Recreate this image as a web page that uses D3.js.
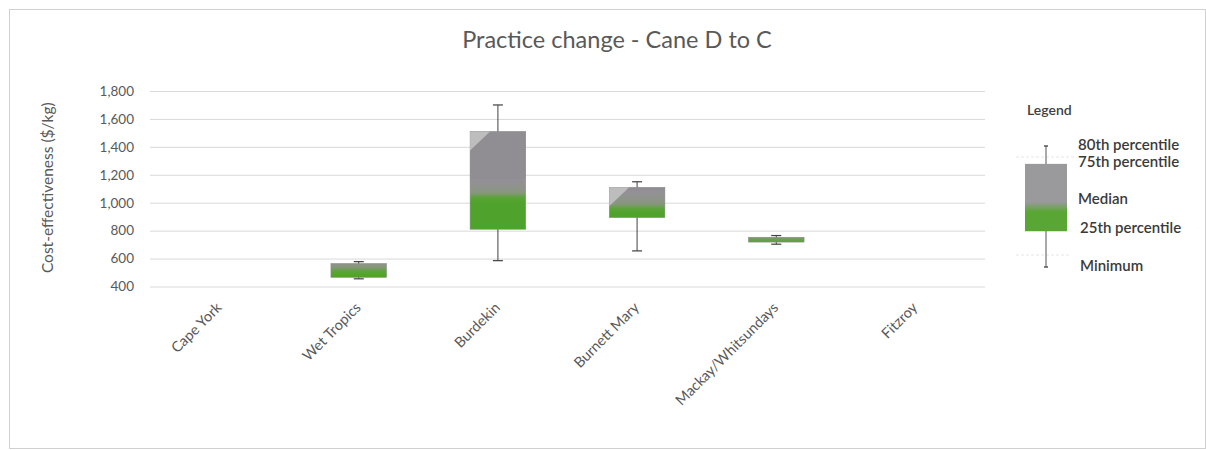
<!DOCTYPE html>
<html>
<head>
<meta charset="utf-8">
<script src="https://cdn.jsdelivr.net/npm/d3@7"></script>
<style>
  html, body { margin: 0; padding: 0; background: #fff; }
  svg { display: block; }
  text { font-family: Lato, "Open Sans", sans-serif; }
</style>
</head>
<body>
<svg id="chart" width="1206" height="450"></svg>
<script>
// ---- data ----
const categories = ["Cape York", "Wet Tropics", "Burdekin", "Burnett Mary", "Mackay/Whitsundays", "Fitzroy"];
const minimum    = [null, 455, 585, 655, 703, null];
const p25        = [null, 465, 810, 893, 718, null];
const median     = [null, 525, 1055, 975, 742, null];
const p75        = [null, 565, 1510, 1110, 753, null];
const p80        = [null, 578, 1700, 1150, 765, null];
const yTicks     = [400, 600, 800, 1000, 1200, 1400, 1600, 1800];
const title      = "Practice change - Cane D to C";
const yTitle     = "Cost-effectiveness ($/kg)";
const legendTitle = "Legend";
const legendLabels = ["80th percentile", "75th percentile", "Median", "25th percentile", "Minimum"];
const legendValues = [1420, 1290, 970, 800, 540];   // nominal positions of the legend glyph

// ---- setup ----
const svg = d3.select("#chart");
const W = 1206, H = 450;
const margin = { left: 150, right: 221, top: 91, bottom: 163.5 };

svg.append("rect").attr("x", 9.5).attr("y", 9.5).attr("width", W - 10).attr("height", H - 11)
  .attr("fill", "#fff").attr("stroke", "#d0d0d0").attr("stroke-width", 1);

const x = d3.scaleBand().domain(categories).range([margin.left, W - margin.right]).paddingInner(0.6).paddingOuter(0.3);
const y = d3.scaleLinear().domain([400, 1800]).range([H - margin.bottom, margin.top]);

// title
svg.append("text").attr("x", 617).attr("y", 48).attr("text-anchor", "middle")
  .attr("font-size", 23.5).attr("fill", "#595959").text(title);

// gridlines + y labels
const yAxis = d3.axisLeft(y).tickValues(yTicks).tickSize(-(W - margin.right - margin.left))
  .tickFormat(d3.format(",")).tickPadding(16);
const gy = svg.append("g").attr("transform", `translate(${margin.left},0)`).call(yAxis);
gy.select(".domain").remove();
gy.selectAll(".tick line").attr("stroke", "#d9d9d9").attr("stroke-width", 1);
gy.selectAll(".tick text").attr("fill", "#595959").attr("font-size", 13.5)
  .attr("font-family", "Lato, 'Open Sans', sans-serif");

// y title
svg.append("text").attr("transform", `translate(53,${(y(400) + y(1800)) / 2 - 1}) rotate(-90)`)
  .attr("text-anchor", "middle").attr("font-size", 15.5).attr("fill", "#595959").text(yTitle);

// x labels
const gx = svg.append("g");
categories.forEach(c => {
  const cx = x(c) + x.bandwidth() / 2;
  gx.append("text").attr("transform", `translate(${cx + 3},${y(400) + 22}) rotate(-45)`)
    .attr("text-anchor", "end").attr("font-size", 14.5).attr("fill", "#595959").text(c);
});

// gradients
const defs = svg.append("defs");
function makeGrad(id, yMed) {
  const g = defs.append("linearGradient").attr("id", id).attr("gradientUnits", "userSpaceOnUse")
    .attr("x1", 0).attr("x2", 0).attr("y1", yMed - 16).attr("y2", yMed + 8);
  g.append("stop").attr("offset", 0).attr("stop-color", "#958f9a");
  g.append("stop").attr("offset", 0.55).attr("stop-color", "#8a9680");
  g.append("stop").attr("offset", 0.8).attr("stop-color", "#58a434");
  g.append("stop").attr("offset", 1).attr("stop-color", "#4fa22b");
  return `url(#${id})`;
}

// boxes
const boxes = svg.append("g");
categories.forEach((c, i) => {
  if (minimum[i] == null) return;
  const x0 = x(c), bw = x.bandwidth(), cx = x0 + bw / 2;
  const stroke = "#404040";
  boxes.append("line").attr("x1", cx).attr("x2", cx).attr("y1", y(p80[i])).attr("y2", y(minimum[i]))
    .attr("stroke", stroke).attr("stroke-width", 1);
  [p80[i], minimum[i]].forEach(v => {
    boxes.append("line").attr("x1", cx - 5).attr("x2", cx + 5).attr("y1", y(v)).attr("y2", y(v))
      .attr("stroke", stroke).attr("stroke-width", 1.2);
  });
  const fill = makeGrad("g" + i, y(median[i]));
  const top = y(p75[i]), bot = y(p25[i]);
  boxes.append("rect").attr("x", x0).attr("y", top).attr("width", bw).attr("height", bot - top)
    .attr("fill", fill).attr("stroke", "#8a8a8a").attr("stroke-width", 0.5);
  boxes.append("rect").attr("x", x0).attr("y", top).attr("width", bw)
    .attr("height", Math.max(0, y(median[i]) - 16 - top)).attr("fill", "#8e8e8e").attr("opacity", 0.6);
  if (bot - top > 25) {
    boxes.append("path")
      .attr("d", `M${x0},${top} L${x0 + 20},${top} L${x0},${top + 19} Z`)
      .attr("fill", "#bdbdbd");
  }
});

// legend
const lg = svg.append("g");
lg.append("text").attr("x", 1027).attr("y", 115).attr("font-size", 14).attr("fill", "#404040")
  .attr("font-weight", 600).text(legendTitle);
const ly = d3.scaleLinear().domain([540, 1420]).range([267, 146]);
const lx0 = 1025, lw = 42, lcx = lx0 + lw / 2;
lg.append("line").attr("x1", 1016).attr("x2", 1076).attr("y1", 157).attr("y2", 157)
  .attr("stroke", "#e6e6e6").attr("stroke-dasharray", "3,2");
lg.append("line").attr("x1", 1016).attr("x2", 1070).attr("y1", 255).attr("y2", 255)
  .attr("stroke", "#e6e6e6").attr("stroke-dasharray", "3,2");
lg.append("line").attr("x1", lcx).attr("x2", lcx).attr("y1", ly(legendValues[0])).attr("y2", ly(legendValues[4]))
  .attr("stroke", "#555").attr("stroke-width", 1);
[legendValues[0], legendValues[4]].forEach(v => {
  lg.append("line").attr("x1", lcx - 2).attr("x2", lcx + 2).attr("y1", ly(v)).attr("y2", ly(v))
    .attr("stroke", "#555").attr("stroke-width", 1.5);
});
const lgrad = defs.append("linearGradient").attr("id", "lgrad").attr("gradientUnits", "userSpaceOnUse")
  .attr("x1", 0).attr("x2", 0).attr("y1", ly(legendValues[2]) - 6).attr("y2", ly(legendValues[2]) + 4);
lgrad.append("stop").attr("offset", 0).attr("stop-color", "#9a9a9c");
lgrad.append("stop").attr("offset", 1).attr("stop-color", "#5aa634");
lg.append("rect").attr("x", lx0).attr("y", ly(legendValues[1])).attr("width", lw)
  .attr("height", ly(legendValues[3]) - ly(legendValues[1])).attr("fill", "url(#lgrad)");
const labelY = [150, 167, 204, 233, 271];
legendLabels.forEach((t, i) => {
  lg.append("text").attr("x", i >= 3 ? 1080 : 1078).attr("y", labelY[i]).attr("font-size", 15)
    .attr("fill", "#3a3a3a").attr("font-weight", 600).text(t);
});
</script>
</body>
</html>
